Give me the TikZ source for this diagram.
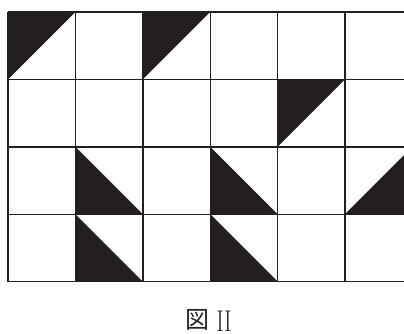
\documentclass[tikz,border=0pt]{standalone}
\usepackage{fontspec}
\newfontfamily\cjk{Noto Sans CJK JP}
\definecolor{ink}{HTML}{231F20}
\tikzset{
  blk/.style={fill=ink, draw=none},
  gridline/.style={draw=ink, line width=1.4pt},
  captext/.style={inner sep=0pt, text=ink}
}
\begin{document}
\begin{tikzpicture}[x=1pt,y=-1pt]
\useasboundingbox (0,0) rectangle (404,334);
\begin{scope}
\clip (0,0) rectangle (404,334);
\def\cs{67.4}
% upper-left black halves
\foreach \i/\j in {0/0,2/0,4/1}
  \fill[blk] ({8+\i*\cs},{12+\j*\cs}) -- ({8+(\i+1)*\cs},{12+\j*\cs}) -- ({8+\i*\cs},{12+(\j+1)*\cs}) -- cycle;
% lower-left black halves
\foreach \i/\j in {1/2,3/2,1/3,3/3}
  \fill[blk] ({8+\i*\cs},{12+\j*\cs}) -- ({8+\i*\cs},{12+(\j+1)*\cs}) -- ({8+(\i+1)*\cs},{12+(\j+1)*\cs}) -- cycle;
% lower-right black half
\foreach \i/\j in {5/2}
  \fill[blk] ({8+\i*\cs},{12+(\j+1)*\cs}) -- ({8+(\i+1)*\cs},{12+(\j+1)*\cs}) -- ({8+(\i+1)*\cs},{12+\j*\cs}) -- cycle;
% grid
\foreach \k in {0,...,6}
  \draw[gridline] ({8+\k*\cs},12) -- ({8+\k*\cs},{12+4*\cs});
\foreach \k in {0,...,4}
  \draw[gridline] (8,{12+\k*\cs}) -- ({8+6*\cs},{12+\k*\cs});
\end{scope}
\node[captext] (zu) at (197,320) {\cjk\fontsize{24}{24}\selectfont 図};
\node[captext] (num) at (224,321.5) {\fontsize{30}{30}\selectfont\scalebox{0.72}[1]{II}};
\end{tikzpicture}
\end{document}
